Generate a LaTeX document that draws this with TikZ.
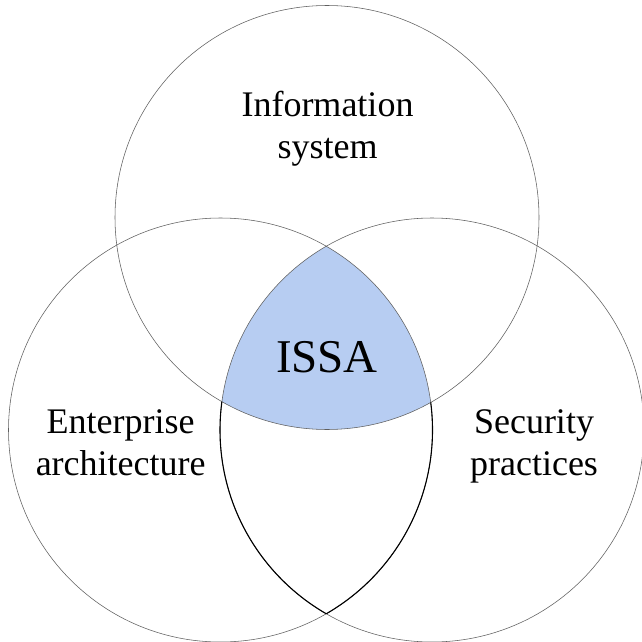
\documentclass[tikz,border=0pt]{standalone}
\usepackage{fontspec}
\setmainfont{Liberation Serif}
\definecolor{issablue}{RGB}{183,205,242}
\definecolor{ringgray}{RGB}{95,95,95}
\begin{document}
\begin{tikzpicture}[x=1pt,y=-1pt,
  ring/.style={draw=ringgray,line width=0.55pt},
  lens/.style={draw=black,line width=1.1pt},
  lbl/.style={align=center,inner sep=0pt,anchor=base,font=\fontsize{36}{41.5}\selectfont},
  bigl/.style={inner sep=0pt,anchor=base,font=\fontsize{47}{52}\selectfont}]
\useasboundingbox (0,0) rectangle (642,642);
\fill[white] (0,0) rectangle (642,642);
\coordinate (cT) at (327,217.5);
\coordinate (cL) at (220.5,430);
\coordinate (cR) at (432,430);
\def\rr{212pt}
% shaded triple intersection
\begin{scope}
  \clip (cT) circle[radius=\rr];
  \clip (cL) circle[radius=\rr];
  \fill[issablue] (cR) circle[radius=\rr];
\end{scope}
% circles
\draw[ring] (cT) circle[radius=\rr];
\draw[ring] (cL) circle[radius=\rr];
\draw[ring] (cR) circle[radius=\rr];
% bold lens below the shaded region
\begin{scope}[even odd rule]
  \clip (-10,-10) rectangle (660,660) (cT) circle[radius=\rr];
  \begin{scope}
    \clip (cL) circle[radius=\rr];
    \draw[lens] (cR) circle[radius=\rr];
  \end{scope}
  \begin{scope}
    \clip (cR) circle[radius=\rr];
    \draw[lens] (cL) circle[radius=\rr];
  \end{scope}
\end{scope}
% labels (base anchor = baseline of the last line)
\node[lbl] (info) at (327.5,158) {Information\\system};
\node[bigl] (issa) at (327,372) {ISSA};
\node[lbl] (ent) at (120.7,475) {Enterprise\\architecture};
\node[lbl] (sec) at (534,475) {Security\\practices};
\end{tikzpicture}
\end{document}
